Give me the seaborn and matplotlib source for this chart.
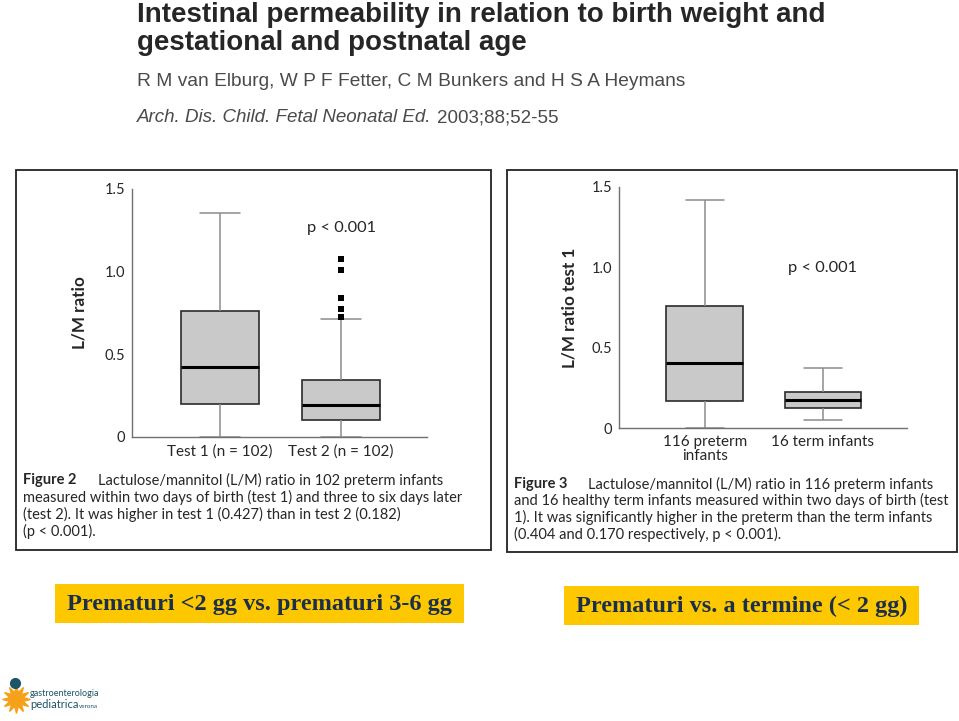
import numpy as np
import pandas as pd
import matplotlib.pyplot as plt
from matplotlib.patches import Rectangle
from matplotlib.lines import Line2D
import seaborn as sns

# 1. Data (min, Q1, median, Q3, max for each box)
fig2_groups = ['Test 1 (n = 102)', 'Test 2 (n = 102)']
test1_box = [0.0, 0.198, 0.425, 0.762, 1.355]
test2_box = [0.0, 0.103, 0.192, 0.347, 0.714]
test2_outliers = [0.728, 0.774, 0.843, 1.010, 1.078]

fig3_groups = ['116 preterm\ninfants', '16 term infants']
preterm_box = [0.0, 0.171, 0.403, 0.759, 1.415]
term_box = [0.052, 0.128, 0.175, 0.227, 0.376]

y_ticks = [0, 0.5, 1.0, 1.5]
y_ticklabels = ['0', '0.5', '1.0', '1.5']

caption2 = ['measured within two days of birth (test 1) and three to six days later',
            '(test 2). It was higher in test 1 (0.427) than in test 2 (0.182)',
            '(p < 0.001).']
caption3 = ['and 16 healthy term infants measured within two days of birth (test',
            '1). It was significantly higher in the preterm than the term infants',
            '(0.404 and 0.170 respectively, p < 0.001).']

# 2. Style
sns.set_style('white')
plt.rcParams['font.family'] = ['Lato', 'DejaVu Sans']

W, H = 959, 721
BOX_FILL = '#c9c9c9'
EDGE = '#2b2b2b'
WHISK = '#8c8c8c'
AXIS = '#707070'
YELLOW = '#fdc800'
NAVY = '#1c2f4a'
CAP_FS = 10.55


def fx(x):
    return x / W


def fy(y):
    return 1 - y / H


fig = plt.figure(figsize=(9.59, 7.21), dpi=100)


def draw_panel(ax, groups, boxes, ylabel, label_x):
    df = pd.DataFrame({'group': np.repeat(groups, 5),
                       'ratio': np.concatenate(boxes)})
    sns.boxplot(data=df, x='group', y='ratio', order=groups, whis=(0, 100),
                width=0.65, color=BOX_FILL, saturation=1, linecolor=EDGE,
                linewidth=1.2,
                whiskerprops=dict(color=WHISK, linewidth=1.1),
                capprops=dict(color=WHISK, linewidth=1.1),
                medianprops=dict(color='black', linewidth=2.2),
                ax=ax)
    ax.set_xlim(-0.727, 1.71)
    ax.set_ylim(0, 1.5)
    ax.set_yticks(y_ticks)
    ax.set_yticklabels(y_ticklabels)
    ax.tick_params(axis='y', direction='in', length=7, color=AXIS,
                   labelsize=10.5, pad=5)
    ax.tick_params(axis='x', length=0, labelsize=11, pad=5)
    for lab in ax.get_xticklabels():
        lab.set_linespacing(1.0)
    sns.despine(ax=ax)
    for side in ['left', 'bottom']:
        ax.spines[side].set_color(AXIS)
        ax.spines[side].set_linewidth(1.0)
    ax.set_xlabel('')
    ax.set_ylabel(ylabel, fontsize=12.3, fontweight='bold')
    ax.yaxis.set_label_coords(label_x, 0.5)
    ax.set_facecolor('none')


# 3. Left panel (Figure 2)
ax1 = fig.add_axes([fx(132), fy(437), (427 - 132) / W, (437 - 189) / H])
draw_panel(ax1, fig2_groups, [test1_box, test2_box], 'L/M ratio', -0.15)
sns.stripplot(x=[fig2_groups[1]] * len(test2_outliers), y=test2_outliers,
              order=fig2_groups, jitter=False, marker='s', color='black',
              size=4.5, ax=ax1)
ax1.set_xlim(-0.727, 1.71)
ax1.set_ylim(0, 1.5)
ax1.text(1, 1.264, 'p < 0.001', ha='center', va='center', fontsize=11.8)

# 4. Right panel (Figure 3)
ax2 = fig.add_axes([fx(619), fy(428.3), (906.7 - 619) / W, (428.3 - 186.7) / H])
draw_panel(ax2, fig3_groups, [preterm_box, term_box], 'L/M ratio test 1', -0.143)
ax2.text(1, 0.995, 'p < 0.001', ha='center', va='center', fontsize=11.8)

# 5. Panel frames and captions
for x0, y0, x1, y1 in [(15.7, 170, 491, 550), (506.7, 170, 957, 552)]:
    fig.add_artist(Rectangle((fx(x0), fy(y1)), (x1 - x0) / W, (y1 - y0) / H,
                             transform=fig.transFigure, fill=False,
                             ec='#222222', lw=1.3))

fig.text(fx(23), fy(480), 'Figure 2', fontsize=CAP_FS, fontweight='bold', va='center')
fig.text(fx(98), fy(480), 'Lactulose/mannitol (L/M) ratio in 102 preterm infants',
         fontsize=CAP_FS, va='center')
for i, line in enumerate(caption2):
    fig.text(fx(23), fy(497.5 + 17 * i), line, fontsize=CAP_FS, va='center')

fig.text(fx(514), fy(484), 'Figure 3', fontsize=CAP_FS, fontweight='bold', va='center')
fig.text(fx(588), fy(484), 'Lactulose/mannitol (L/M) ratio in 116 preterm infants',
         fontsize=CAP_FS, va='center')
for i, line in enumerate(caption3):
    fig.text(fx(514), fy(500.7 + 16.7 * i), line, fontsize=CAP_FS, va='center')

# 6. Slide header
fig.text(fx(137), fy(22), 'Intestinal permeability in relation to birth weight and',
         fontsize=20, fontweight='bold', family='Liberation Sans', va='baseline')
fig.text(fx(137), fy(50), 'gestational and postnatal age',
         fontsize=20, fontweight='bold', family='Liberation Sans', va='baseline')
fig.text(fx(137), fy(81), 'R M van Elburg, W P F Fetter, C M Bunkers and H S A Heymans',
         fontsize=13.75, color='#4a4a4a', family='Liberation Sans', va='center')
fig.text(fx(137), fy(118), 'Arch. Dis. Child. Fetal Neonatal Ed.',
         fontsize=13.5, color='#4a4a4a', family='Liberation Sans', style='italic',
         va='center')
fig.text(fx(437), fy(118), '2003;88;52-55',
         fontsize=13.5, color='#4a4a4a', family='Liberation Sans', va='center')

# 7. Yellow labels
for (x0, y0, x1, y1), label in [((55, 584, 464, 623), 'Prematuri <2 gg vs. prematuri 3-6 gg'),
                                ((564, 586, 919, 625), 'Prematuri vs. a termine (< 2 gg)')]:
    fig.add_artist(Rectangle((fx(x0), fy(y1)), (x1 - x0) / W, (y1 - y0) / H,
                             transform=fig.transFigure, color=YELLOW, lw=0))
    fig.text(fx((x0 + x1) / 2), fy((y0 + y1) / 2 + 1), label, ha='center', va='center',
             fontsize=17.5, fontweight='bold', family='Liberation Serif', color=NAVY)

# 8. Logo
fig.add_artist(Line2D([fx(16)], [fy(699)], marker=(12, 1, 0), ms=20, color='#f7a11a',
                      transform=fig.transFigure))
fig.add_artist(Line2D([fx(15)], [fy(683)], marker='o', ms=7, color='#1d5467',
                      transform=fig.transFigure))
fig.text(fx(30), fy(694), 'gastroenterologia', fontsize=6.5, color='#1d5467', va='center')
fig.text(fx(30), fy(705), 'pediatrica', fontsize=8, color='#1d5467', va='center')
fig.text(fx(79), fy(706), 'verona', fontsize=4.5, color='#1d5467', va='center')

plt.savefig('out.png', dpi=100)
